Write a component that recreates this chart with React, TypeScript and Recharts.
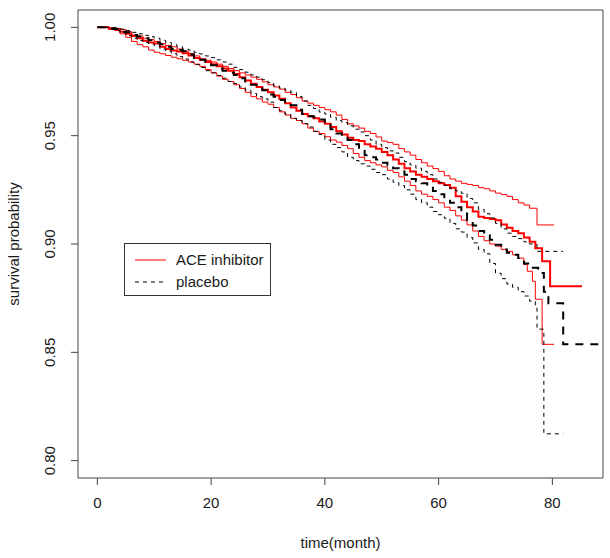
import React from 'react';
import { LineChart, Line, XAxis, YAxis, ReferenceArea } from 'recharts';

// Kaplan-Meier curves (time in months, survival probability)
const aceTime = [0, 1, 2, 3, 4, 5, 6, 7, 8, 9, 10, 11, 12, 13, 14, 15, 16, 17, 18, 19, 20, 21, 22, 23, 24, 25, 26, 27, 28, 29, 30, 31, 32, 33, 34, 35, 36, 37, 38, 39, 40, 41, 42, 43, 44, 45, 46, 47, 48, 49, 50, 51, 52, 53, 54, 55, 56, 57, 58, 59, 60, 61, 62, 63, 64, 65, 66, 67, 68, 69, 70, 71, 72, 73, 74, 75, 76, 77, 78.2, 79.6, 85.2];
const aceSurv = [1, 1, 0.9995, 0.9992, 0.998, 0.997, 0.996, 0.995, 0.9938, 0.993, 0.9925, 0.991, 0.99, 0.9893, 0.9888, 0.988, 0.987, 0.9858, 0.985, 0.984, 0.983, 0.982, 0.981, 0.98, 0.9785, 0.977, 0.9755, 0.974, 0.9725, 0.9712, 0.97, 0.9685, 0.967, 0.965, 0.963, 0.9615, 0.96, 0.959, 0.958, 0.9565, 0.9555, 0.954, 0.952, 0.9505, 0.949, 0.948, 0.9475, 0.946, 0.945, 0.944, 0.9425, 0.941, 0.939, 0.937, 0.935, 0.9335, 0.932, 0.931, 0.93, 0.929, 0.928, 0.9272, 0.926, 0.922, 0.9195, 0.917, 0.915, 0.9126, 0.912, 0.9115, 0.911, 0.909, 0.9075, 0.906, 0.905, 0.903, 0.901, 0.898, 0.892, 0.8805, 0.8805];

const aceUpperTime = [0, 1, 2, 3, 4, 5, 6, 7, 8, 9, 10, 11, 12, 13, 14, 15, 16, 17, 18, 19, 20, 21, 22, 23, 24, 25, 26, 27, 28, 29, 30, 31, 32, 33, 34, 35, 36, 37, 38, 39, 40, 41, 42, 43, 44, 45, 46, 47, 48, 49, 50, 51, 52, 53, 54, 55, 56, 57, 58, 59, 60, 61, 62, 63, 64, 65, 66, 67, 68, 69, 70, 71, 72, 73, 74, 75, 76, 77.3, 80.3];
const aceUpper = [1, 1, 0.9998, 0.9995, 0.999, 0.998, 0.9965, 0.996, 0.995, 0.9943, 0.9935, 0.9925, 0.9916, 0.991, 0.99, 0.989, 0.988, 0.9868, 0.9855, 0.9848, 0.984, 0.983, 0.982, 0.981, 0.98, 0.979, 0.978, 0.977, 0.976, 0.9748, 0.9735, 0.9725, 0.9715, 0.97, 0.969, 0.9675, 0.966, 0.965, 0.964, 0.963, 0.962, 0.961, 0.9595, 0.9575, 0.9555, 0.9545, 0.9535, 0.952, 0.951, 0.9494, 0.9475, 0.9468, 0.946, 0.944, 0.9425, 0.941, 0.939, 0.9375, 0.936, 0.9348, 0.9335, 0.9315, 0.93, 0.929, 0.928, 0.9275, 0.927, 0.926, 0.9255, 0.9245, 0.9235, 0.9228, 0.922, 0.9205, 0.919, 0.918, 0.9165, 0.9088, 0.9088];

const aceLowerTime = [0, 1, 2, 3, 4, 5, 6, 7, 8, 9, 10, 11, 12, 13, 14, 15, 16, 17, 18, 19, 20, 21, 22, 23, 24, 25, 26, 27, 28, 29, 30, 31, 32, 33, 34, 35, 36, 37, 38, 39, 40, 41, 42, 43, 44, 45, 46, 47, 48, 49, 50, 51, 52, 53, 54, 55, 56, 57, 58, 59, 60, 61, 62, 63, 64, 65, 66, 67, 68, 69, 70, 71, 72, 73, 74, 75, 75.6, 76.5, 77, 78.2, 80.3];
const aceLower = [1, 1, 0.999, 0.9985, 0.997, 0.9954, 0.9935, 0.992, 0.991, 0.9895, 0.9885, 0.9878, 0.987, 0.9862, 0.9855, 0.9848, 0.984, 0.983, 0.982, 0.9805, 0.979, 0.9775, 0.976, 0.975, 0.9735, 0.9718, 0.97, 0.968, 0.967, 0.9655, 0.9645, 0.963, 0.961, 0.9595, 0.958, 0.957, 0.9555, 0.9535, 0.952, 0.951, 0.9495, 0.948, 0.947, 0.9455, 0.944, 0.9418, 0.94, 0.9385, 0.9375, 0.9365, 0.9356, 0.934, 0.933, 0.931, 0.929, 0.927, 0.9245, 0.923, 0.922, 0.9205, 0.919, 0.917, 0.9155, 0.913, 0.911, 0.9088, 0.906, 0.9035, 0.9015, 0.9, 0.899, 0.8975, 0.8966, 0.895, 0.8935, 0.8905, 0.8874, 0.8828, 0.8745, 0.8537, 0.8537];

const placeboTime = [0, 1, 2, 3, 4, 5, 6, 7, 8, 9, 10, 11, 12, 13, 14, 15, 16, 17, 18, 19, 20, 21, 22, 23, 24, 25, 26, 27, 28, 29, 30, 31, 32, 33, 34, 35, 36, 37, 38, 39, 40, 41, 42, 43, 44, 45, 46, 47, 48, 49, 50, 51, 52, 53, 54, 55, 56, 57, 58, 59, 60, 61, 62, 63, 64, 65, 66, 67, 68, 69, 70, 71, 72, 73, 74, 75, 76, 77.5, 78.5, 79.3, 81.9, 88.9];
const placeboSurv = [1, 1, 0.9995, 0.9992, 0.998, 0.9977, 0.9965, 0.9958, 0.995, 0.994, 0.993, 0.9922, 0.991, 0.99, 0.9895, 0.989, 0.9875, 0.986, 0.985, 0.984, 0.9825, 0.981, 0.98, 0.979, 0.978, 0.9765, 0.975, 0.9735, 0.9725, 0.971, 0.969, 0.968, 0.9665, 0.9655, 0.964, 0.962, 0.96, 0.959, 0.9585, 0.9575, 0.955, 0.953, 0.951, 0.9495, 0.948, 0.946, 0.9435, 0.941, 0.94, 0.939, 0.9375, 0.9364, 0.935, 0.9335, 0.932, 0.93, 0.929, 0.928, 0.9265, 0.9245, 0.923, 0.921, 0.919, 0.917, 0.915, 0.911, 0.9085, 0.906, 0.904, 0.902, 0.8996, 0.8975, 0.896, 0.895, 0.8935, 0.891, 0.889, 0.8866, 0.878, 0.8726, 0.8537, 0.8537];

const placeboUpperTime = [0, 1, 2, 3, 4, 5, 6, 7, 8, 9, 10, 11, 12, 13, 14, 15, 16, 17, 18, 19, 20, 21, 22, 23, 24, 25, 26, 27, 28, 29, 30, 31, 32, 33, 34, 35, 36, 37, 38, 39, 40, 41, 42, 43, 44, 45, 46, 47, 48, 49, 50, 51, 52, 53, 54, 55, 56, 57, 58, 59, 60, 61, 62, 63, 64, 65, 66, 67, 68, 69, 70, 71, 72, 73, 74, 75, 76, 77.3, 81.9];
const placeboUpper = [1, 1, 0.9999, 0.9998, 0.9992, 0.9985, 0.9977, 0.997, 0.9963, 0.9957, 0.995, 0.994, 0.993, 0.992, 0.991, 0.99, 0.9895, 0.9885, 0.9877, 0.9868, 0.986, 0.985, 0.984, 0.983, 0.9815, 0.9805, 0.9793, 0.978, 0.977, 0.9758, 0.9745, 0.973, 0.972, 0.971, 0.97, 0.968, 0.966, 0.964, 0.9625, 0.9609, 0.96, 0.9585, 0.957, 0.956, 0.9545, 0.953, 0.9517, 0.95, 0.948, 0.946, 0.9445, 0.943, 0.942, 0.94, 0.938, 0.9365, 0.935, 0.9335, 0.932, 0.93, 0.9285, 0.927, 0.9255, 0.9245, 0.9234, 0.921, 0.919, 0.916, 0.914, 0.912, 0.9095, 0.907, 0.905, 0.9035, 0.9025, 0.901, 0.9, 0.8966, 0.8966];

const placeboLowerTime = [0, 1, 2, 3, 4, 5, 6, 7, 8, 9, 10, 11, 12, 13, 14, 15, 16, 17, 18, 19, 20, 21, 22, 23, 24, 25, 26, 27, 28, 29, 30, 31, 32, 33, 34, 35, 36, 37, 38, 39, 40, 41, 42, 43, 44, 45, 46, 47, 48, 49, 50, 51, 52, 53, 54, 55, 56, 57, 58, 59, 60, 61, 62, 63, 64, 65, 66, 67, 68, 69, 70, 71, 72, 73, 74, 75, 76, 77, 77.3, 78.5, 81.9];
const placeboLower = [1, 1, 0.999, 0.9985, 0.9975, 0.9962, 0.995, 0.994, 0.993, 0.9923, 0.9915, 0.99, 0.989, 0.9878, 0.9865, 0.9854, 0.984, 0.9828, 0.9815, 0.98, 0.979, 0.9778, 0.9765, 0.975, 0.974, 0.9725, 0.971, 0.9695, 0.968, 0.967, 0.9655, 0.963, 0.9615, 0.96, 0.958, 0.957, 0.9555, 0.954, 0.952, 0.9505, 0.948, 0.946, 0.9445, 0.9425, 0.94, 0.9385, 0.937, 0.936, 0.9345, 0.933, 0.932, 0.93, 0.9285, 0.927, 0.925, 0.923, 0.9205, 0.919, 0.917, 0.915, 0.9135, 0.9119, 0.9095, 0.907, 0.9055, 0.903, 0.9005, 0.8975, 0.8955, 0.891, 0.8865, 0.884, 0.8815, 0.88, 0.878, 0.876, 0.8736, 0.8705, 0.8607, 0.8124, 0.8124];

const xTicks = [0, 20, 40, 60, 80];
const yTicks = [0.8, 0.85, 0.9, 0.95, 1.0];

const toPoints = (times: number[], values: number[]) =>
  times.map((t, i) => ({ t, s: values[i] }));

const FONT = '"Liberation Sans", Arial, Helvetica, sans-serif';
const INK = '#1a1a1a';
const RED = '#ff0000';

const YTick = (props: any) => {
  const { y, payload } = props;
  return (
    <text
      transform={`translate(55, ${y}) rotate(-90)`}
      textAnchor="middle"
      fontFamily={FONT}
      fontSize={15}
      fill={INK}
    >
      {payload.value.toFixed(2)}
    </text>
  );
};

export default function App() {
  return (
    <div style={{ position: 'absolute', left: 0, top: 0, width: 610, height: 558, background: '#fff' }}>
      <LineChart
        width={610}
        height={558}
        margin={{ top: 10, right: 7, bottom: 0, left: 0 }}
      >
        <XAxis
          type="number"
          dataKey="t"
          domain={[-3.4, 88.9]}
          allowDataOverflow
          ticks={xTicks}
          height={80}
          axisLine={false}
          tickSize={7}
          tickMargin={12}
          tickLine={{ stroke: '#444' }}
          tick={{ fill: INK, fontSize: 15, fontFamily: FONT }}
          label={({ viewBox }: any) => (
            <text
              x={viewBox.x + viewBox.width / 2}
              y={548}
              textAnchor="middle"
              fontFamily={FONT}
              fontSize={15}
              fill={INK}
            >
              time(month)
            </text>
          )}
        />
        <YAxis
          type="number"
          dataKey="s"
          domain={[0.792, 1.008]}
          allowDataOverflow
          ticks={yTicks}
          width={78}
          axisLine={false}
          tickSize={7}
          tickLine={{ stroke: '#444' }}
          tick={<YTick />}
          label={() => (
            <text
              transform="translate(19, 244) rotate(-90)"
              textAnchor="middle"
              fontFamily={FONT}
              fontSize={15}
              fill={INK}
            >
              survival probability
            </text>
          )}
        />
        <ReferenceArea
          x1={-3.4}
          x2={88.9}
          y1={0.792}
          y2={1.008}
          fill="none"
          stroke="#444"
          strokeWidth={1}
          ifOverflow="visible"
        />
        <Line data={toPoints(aceUpperTime, aceUpper)} dataKey="s" type="stepAfter" stroke={RED} strokeWidth={1} dot={false} isAnimationActive={false} />
        <Line data={toPoints(aceLowerTime, aceLower)} dataKey="s" type="stepAfter" stroke={RED} strokeWidth={1} dot={false} isAnimationActive={false} />
        <Line data={toPoints(aceTime, aceSurv)} dataKey="s" type="stepAfter" stroke={RED} strokeWidth={2} dot={false} isAnimationActive={false} />
        <Line data={toPoints(placeboUpperTime, placeboUpper)} dataKey="s" type="stepAfter" stroke="#000" strokeWidth={1} strokeDasharray="4 4" dot={false} isAnimationActive={false} />
        <Line data={toPoints(placeboLowerTime, placeboLower)} dataKey="s" type="stepAfter" stroke="#000" strokeWidth={1} strokeDasharray="4 4" dot={false} isAnimationActive={false} />
        <Line data={toPoints(placeboTime, placeboSurv)} dataKey="s" type="stepAfter" stroke="#000" strokeWidth={2} strokeDasharray="8 7" dot={false} isAnimationActive={false} />
      </LineChart>
      <div
        style={{
          position: 'absolute',
          left: 124,
          top: 243,
          width: 147,
          height: 53,
          border: '1px solid #333',
          boxSizing: 'border-box',
          fontFamily: FONT,
          fontSize: 15,
          color: INK,
        }}
      >
        <svg width={45} height={51} style={{ position: 'absolute', left: 0, top: 0 }}>
          <line x1={10} x2={41} y1={16} y2={16} stroke={RED} strokeWidth={1} />
          <line x1={10} x2={41} y1={38} y2={38} stroke="#000" strokeWidth={1} strokeDasharray="4 4" />
        </svg>
        <div style={{ position: 'absolute', left: 51, top: 6, whiteSpace: 'nowrap', lineHeight: '20px' }}>ACE inhibitor</div>
        <div style={{ position: 'absolute', left: 51, top: 28, whiteSpace: 'nowrap', lineHeight: '20px' }}>placebo</div>
      </div>
    </div>
  );
}
